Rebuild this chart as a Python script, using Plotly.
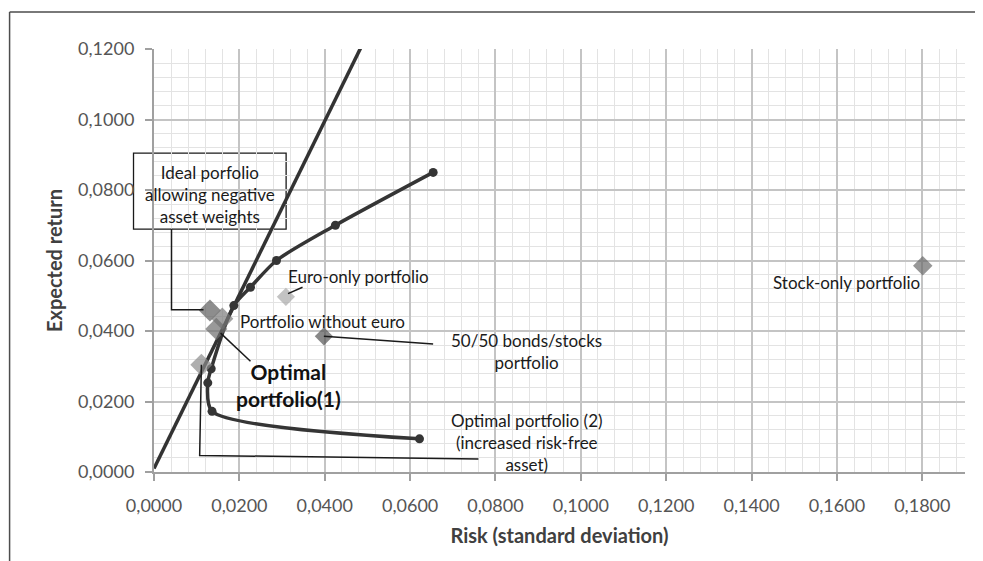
import plotly.graph_objects as go

# ---------------- data ----------------
frontier_risk = [0.0622, 0.0136, 0.0126, 0.0134, 0.0187, 0.0226, 0.0287, 0.0425, 0.0654]
frontier_return = [0.0094, 0.0172, 0.0253, 0.0293, 0.0472, 0.0524, 0.0600, 0.0700, 0.0850]

cml_risk = [0.0, 0.0500]
cml_return = [0.0010, 0.1242]

portfolio_names = [
    "Ideal porfolio allowing negative asset weights",
    "Portfolio without euro",
    "Optimal portfolio(1)",
    "Optimal portfolio (2)",
    "Euro-only portfolio",
    "50/50 bonds/stocks portfolio",
    "Stock-only portfolio",
]
portfolio_risk = [0.0131, 0.0160, 0.0146, 0.0111, 0.0309, 0.0398, 0.1801]
portfolio_return = [0.0458, 0.0435, 0.0406, 0.0304, 0.0497, 0.0385, 0.0585]

x_ticks = [0.0, 0.02, 0.04, 0.06, 0.08, 0.10, 0.12, 0.14, 0.16, 0.18]
y_ticks = [0.0, 0.02, 0.04, 0.06, 0.08, 0.10, 0.12]

# ---------------- styles ----------------
marker_colors = ["#5c5c5c", "#7a7a7a", "#6e6e6e", "#8c8c8c", "#a9a9a9", "#555555", "#6b6b6b"]
marker_sizes = [17, 17, 17, 17, 14, 14, 15]
FONT = "Lato"

# page offset (browser body margin)
OFF = 8
W, H = 983 - OFF, 561 - OFF
PL, PR, PT, PB = 153.5 - OFF, 965 - OFF, 49 - OFF, 472.5 - OFF

fig = go.Figure()

fig.add_trace(go.Scatter(
    x=cml_risk, y=cml_return, mode="lines",
    line=dict(color="#333333", width=3.5), showlegend=False, hoverinfo="skip"))

fig.add_trace(go.Scatter(
    x=frontier_risk, y=frontier_return, mode="lines+markers",
    line=dict(color="#353535", width=3.5, shape="spline", smoothing=0.75),
    marker=dict(color="#353535", size=9), showlegend=False))

fig.add_trace(go.Scatter(
    x=portfolio_risk, y=portfolio_return, mode="markers", text=portfolio_names,
    marker=dict(symbol="diamond", color=marker_colors, size=marker_sizes, line=dict(width=0)),
    showlegend=False, hoverinfo="text"))

# leader lines
leader = dict(color="#1a1a1a", width=1.5)
fig.add_shape(type="path", xref="x", yref="y",
              path="M 0.0041 0.0690 L 0.0041 0.0460 L 0.0116 0.0460", line=leader)
fig.add_shape(type="path", xref="x", yref="y",
              path="M 0.0111 0.0304 L 0.0107 0.0047 L 0.0760 0.0037", line=leader)
fig.add_shape(type="line", xref="x", yref="y", x0=0.0398, y0=0.0385, x1=0.0654, y1=0.0363, line=leader)
fig.add_shape(type="line", xref="x", yref="y", x0=0.0314, y0=0.0506, x1=0.0348, y1=0.0524, line=leader)
fig.add_shape(type="line", xref="x", yref="y", x0=0.0156, y0=0.0394, x1=0.0226, y1=0.0314, line=leader)


def px_x(p):  # screen pixel -> paper
    return (p - OFF - PL) / (PR - PL)


def px_y(p):
    return (PB - (p - OFF)) / (PB - PT)


fig.add_shape(type="rect", xref="paper", yref="paper", layer="between",
              x0=px_x(133), x1=px_x(285.7), y0=px_y(229.3), y1=px_y(153.3),
              fillcolor="white", line=dict(color="#1a1a1a", width=1.3))

# outer chart border (left & top)
fig.add_shape(type="line", xref="paper", yref="paper", x0=px_x(9), x1=px_x(9),
              y0=-1, y1=px_y(12), line=dict(color="#4d4d4d", width=1.5))
fig.add_shape(type="line", xref="paper", yref="paper", x0=px_x(9), x1=2,
              y0=px_y(12), y1=px_y(12), line=dict(color="#4d4d4d", width=1.5))

lab = dict(family=FONT, size=17, color="#1a1a1a")
ann = [
    dict(x=0.01308, y=0.07870, text="Ideal porfolio<br>allowing negative<br>asset weights"),
    dict(x=0.04787, y=0.05538, text="Euro-only portfolio"),
    dict(x=0.03944, y=0.04272, text="Portfolio without euro"),
    dict(x=0.08720, y=0.03405, text="50/50 bonds/stocks<br>portfolio"),
    dict(x=0.08743, y=0.00850, text="Optimal portfolio (2)<br>(increased risk-free<br>asset)"),
    dict(x=0.16233, y=0.05377, text="Stock-only portfolio"),
]
for a in ann:
    fig.add_annotation(xref="x", yref="y", showarrow=False, font=lab,
                       xanchor="center", yanchor="middle", **a)
fig.add_annotation(xref="x", yref="y", x=0.0316, y=0.02479, showarrow=False,
                   text="<b>Optimal<br>portfolio(1)</b>",
                   font=dict(family=FONT, size=21, color="#111111"),
                   xanchor="center", yanchor="middle")

axis_common = dict(
    showline=True, linecolor="#a0a0a0", linewidth=2,
    ticks="outside", ticklen=7, tickwidth=1.5, tickcolor="#a0a0a0",
    showgrid=True, gridcolor="#c4c4c4", gridwidth=1.5,
    tickformat=".4f", tickfont=dict(family=FONT, size=18, color="#555555"),
    zeroline=False,
)

fig.update_xaxes(range=[0, 0.19], tickvals=x_ticks, ticklabelstandoff=9,
                 minor=dict(dtick=0.004, showgrid=True, gridcolor="#e3e3e3", gridwidth=1, ticks=""),
                 title=dict(text="<b>Risk (standard deviation)</b>",
                            font=dict(family=FONT, size=20, color="#404040"), standoff=14),
                 **axis_common)
fig.update_yaxes(range=[0, 0.12], tickvals=y_ticks, ticklabelstandoff=7,
                 minor=dict(dtick=0.004, showgrid=True, gridcolor="#e3e3e3", gridwidth=1, ticks=""),
                 title=dict(text="<b>Expected return</b>",
                            font=dict(family=FONT, size=20, color="#404040"), standoff=10),
                 **axis_common)

fig.update_layout(
    width=W, height=H,
    margin=dict(l=PL, r=W - PR, t=PT, b=H - PB),
    paper_bgcolor="white", plot_bgcolor="white",
    separators=", ",
    font=dict(family=FONT),
    showlegend=False,
)

fig.write_html("out.html")
